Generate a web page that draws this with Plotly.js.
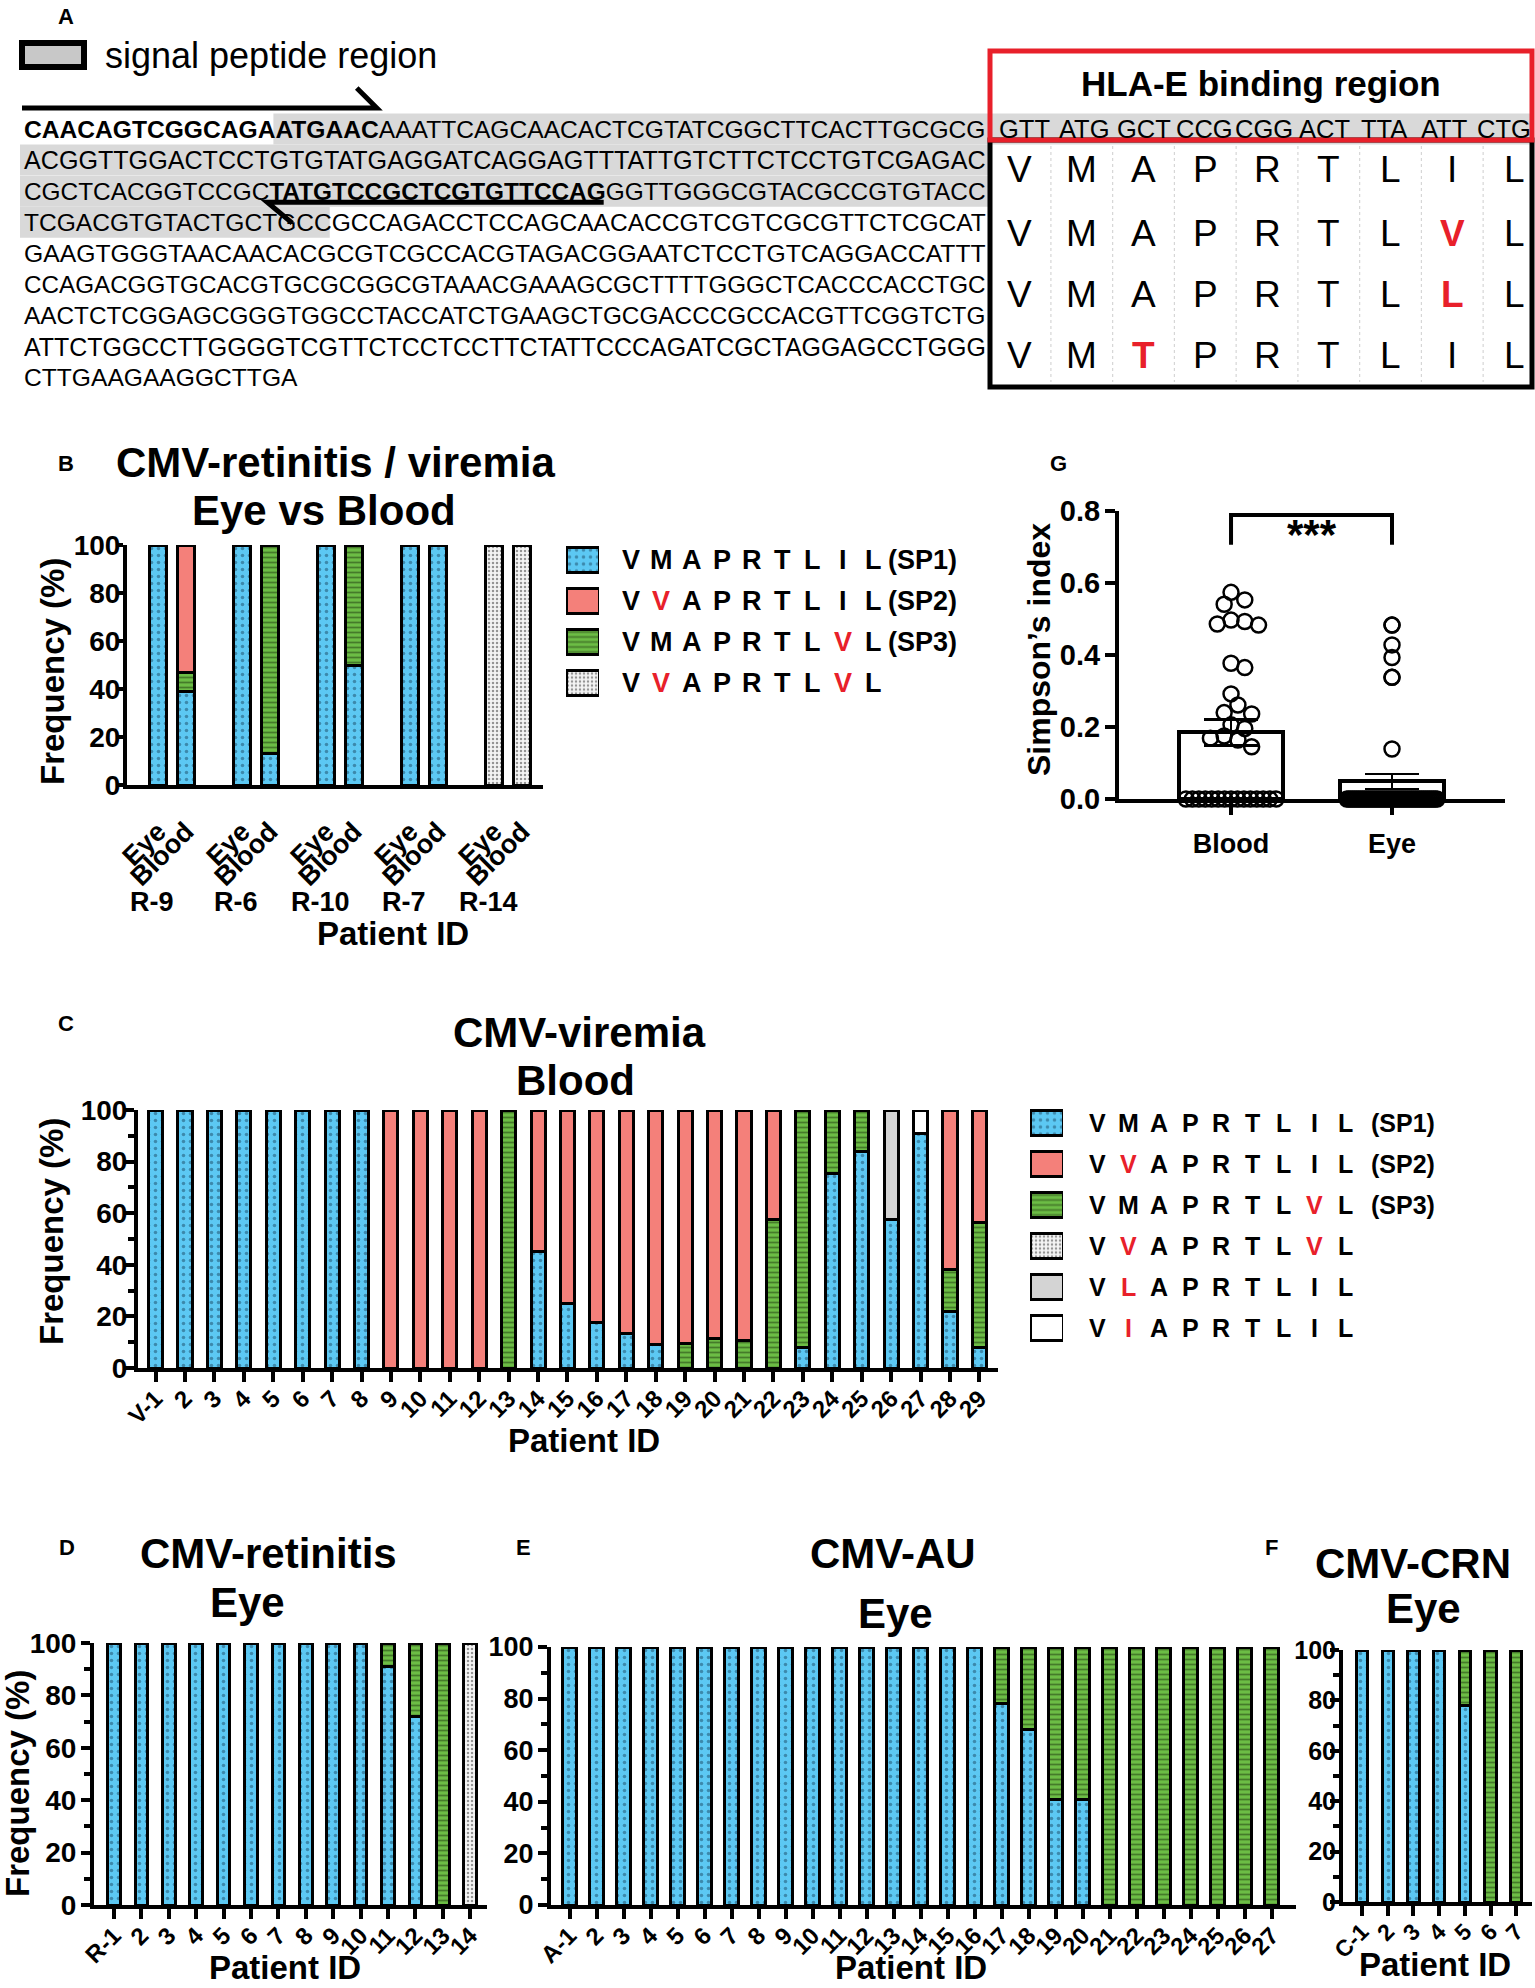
<!DOCTYPE html>
<html>
<head>
<meta charset="utf-8">
<script src="https://cdn.plot.ly/plotly-3.0.1.min.js"></script>
<style>
html,body{margin:0;padding:0;background:#fff;}
#chart{width:1535px;height:1988px;}
</style>
</head>
<body>
<div id="chart"></div>
<script>
/* ===================== DATA ===================== */
// Panel A : UL40 sequence
const seqRows = [
  "CAACAGTCGGCAGAATGAACAAATTCAGCAACACTCGTATCGGCTTCACTTGCGCG",
  "ACGGTTGGACTCCTGTGTATGAGGATCAGGAGTTTATTGTCTTCTCCTGTCGAGAC",
  "CGCTCACGGTCCGCTATGTCCGCTCGTGTTCCAGGGTTGGGCGTACGCCGTGTACC",
  "TCGACGTGTACTGCTGCCGCCAGACCTCCAGCAACACCGTCGTCGCGTTCTCGCAT",
  "GAAGTGGGTAACAACACGCGTCGCCACGTAGACGGAATCTCCTGTCAGGACCATTT",
  "CCAGACGGTGCACGTGCGCGGCGTAAACGAAAGCGCTTTTGGGCTCACCCACCTGC",
  "AACTCTCGGAGCGGGTGGCCTACCATCTGAAGCTGCGACCCGCCACGTTCGGTCTG",
  "ATTCTGGCCTTGGGGTCGTTCTCCTCCTTCTATTCCCAGATCGCTAGGAGCCTGGG",
  "CTTGAAGAAGGCTTGA"
];
const boldSpans = [[0, 0, 20], [2, 14, 34]];      // [row, startCol, endCol]
const signalPeptide = [[0, 14], [3, 18]];          // shaded region start/end
const fwdPrimer = [0, 0, 20];
const revPrimer = [2, 14, 34];
const hlaCodons = ["GTT", "ATG", "GCT", "CCG", "CGG", "ACT", "TTA", "ATT", "CTG"];
const hlaPeptides = ["VMAPRTLIL", "VMAPRTLVL", "VMAPRTLLL", "VMTPRTLIL"];

// Variants (legend order)
const variantSeqs = ["VMAPRTLIL", "VVAPRTLIL", "VMAPRTLVL", "VVAPRTLVL", "VLAPRTLIL", "VIAPRTLIL"];
const variantTags = ["(SP1)", "(SP2)", "(SP3)", "", "", ""];

// Panel B : eye vs blood
const B_patients = ["R-9", "R-6", "R-10", "R-7", "R-14"];
const B_sites = ["Eye", "Blood"];
const B_SP1 = [100, 39, 100, 13, 100, 50, 100, 100, 0, 0];
const B_SP2 = [0, 53, 0, 0, 0, 0, 0, 0, 0, 0];
const B_SP3 = [0, 8, 0, 87, 0, 50, 0, 0, 0, 0];
const B_VVAPRTLVL = [0, 0, 0, 0, 0, 0, 0, 0, 100, 100];

// Panel C : CMV-viremia blood
const C_patients = ["V-1", "2", "3", "4", "5", "6", "7", "8", "9", "10", "11", "12", "13", "14", "15",
  "16", "17", "18", "19", "20", "21", "22", "23", "24", "25", "26", "27", "28", "29"];
const C_SP1 = [100, 100, 100, 100, 100, 100, 100, 100, 0, 0, 0, 0, 0, 45, 25, 17.5, 13.5, 9, 0, 0, 0, 0, 8, 75.5, 84, 57.5, 91, 22, 8];
const C_SP2 = [0, 0, 0, 0, 0, 0, 0, 0, 100, 100, 100, 100, 0, 55, 75, 82.5, 86.5, 91, 90.5, 88.5, 89.5, 42.5, 0, 0, 0, 0, 0, 62, 43.5];
const C_SP3 = [0, 0, 0, 0, 0, 0, 0, 0, 0, 0, 0, 0, 100, 0, 0, 0, 0, 0, 9.5, 11.5, 10.5, 57.5, 92, 24.5, 16, 0, 0, 16, 48.5];
const C_VLAPRTLIL = [0, 0, 0, 0, 0, 0, 0, 0, 0, 0, 0, 0, 0, 0, 0, 0, 0, 0, 0, 0, 0, 0, 0, 0, 0, 42.5, 0, 0, 0];
const C_VIAPRTLIL = [0, 0, 0, 0, 0, 0, 0, 0, 0, 0, 0, 0, 0, 0, 0, 0, 0, 0, 0, 0, 0, 0, 0, 0, 0, 0, 9, 0, 0];

// Panel D : CMV-retinitis eye
const D_patients = ["R-1", "2", "3", "4", "5", "6", "7", "8", "9", "10", "11", "12", "13", "14"];
const D_SP1 = [100, 100, 100, 100, 100, 100, 100, 100, 100, 100, 91, 72, 0, 0];
const D_SP3 = [0, 0, 0, 0, 0, 0, 0, 0, 0, 0, 9, 28, 100, 0];
const D_VVAPRTLVL = [0, 0, 0, 0, 0, 0, 0, 0, 0, 0, 0, 0, 0, 100];

// Panel E : CMV-AU eye
const E_patients = ["A-1", "2", "3", "4", "5", "6", "7", "8", "9", "10", "11", "12", "13", "14",
  "15", "16", "17", "18", "19", "20", "21", "22", "23", "24", "25", "26", "27"];
const E_SP1 = [100, 100, 100, 100, 100, 100, 100, 100, 100, 100, 100, 100, 100, 100, 100, 100, 78, 68, 41, 41, 0, 0, 0, 0, 0, 0, 0];
const E_SP3 = [0, 0, 0, 0, 0, 0, 0, 0, 0, 0, 0, 0, 0, 0, 0, 0, 22, 32, 59, 59, 100, 100, 100, 100, 100, 100, 100];

// Panel F : CMV-CRN eye
const F_patients = ["C-1", "2", "3", "4", "5", "6", "7"];
const F_SP1 = [100, 100, 100, 100, 78, 0, 0];
const F_SP3 = [0, 0, 0, 0, 22, 100, 100];

// Panel G : Simpson's index
const G_groups = ["Blood", "Eye"];
const G_blood = [0, 0, 0, 0, 0, 0, 0, 0, 0, 0, 0, 0, 0, 0, 0,
  0.574, 0.553, 0.541, 0.497, 0.493, 0.486, 0.483, 0.377, 0.365, 0.292,
  0.261, 0.240, 0.236, 0.206, 0.196, 0.175, 0.169, 0.164, 0.145];
const G_eye = [0, 0, 0, 0, 0, 0, 0, 0, 0, 0, 0, 0, 0, 0, 0, 0, 0, 0, 0, 0, 0, 0, 0,
  0, 0, 0, 0, 0, 0, 0, 0, 0, 0, 0, 0, 0, 0, 0, 0, 0, 0, 0, 0, 0, 0, 0,
  0.483, 0.483, 0.428, 0.393, 0.338, 0.338, 0.139];
const G_mean = [0.185, 0.049];
const G_sem = [0.036, 0.021];
const G_signif = "***";

/* ===================== STYLE / HELPERS ===================== */
const W = 1535, H = 1988;
const FONT = 'Arial, "Liberation Sans", Helvetica, sans-serif';
const RED = '#e8202a';
const px = x => x / W, py = y => 1 - y / H;

const variantStyles = [
  {color: '#5cc8f3', pattern: {shape: '.', fgcolor: '#1b4a66', size: 7, solidity: 0.2, fillmode: 'overlay'}},
  {color: '#f4807a'},
  {color: '#6cbd45', pattern: {shape: '-', fgcolor: '#1e3a10', size: 5, solidity: 0.35, fillmode: 'overlay'}},
  {color: '#f4f4f4', pattern: {shape: '.', fgcolor: '#333333', size: 4, solidity: 0.3, fillmode: 'overlay'}},
  {color: '#d4d4d4'},
  {color: '#ffffff'}
];
const stackOrder = [0, 2, 1, 3, 4, 5];

const ANN = [], SHP = [], TR = [];
function T(text, x, y, size, o = {}) {
  ANN.push(Object.assign({
    xref: 'paper', yref: 'paper', x: px(x), y: py(y), text: text, showarrow: false,
    font: {family: FONT, size: size, color: o.color || '#000', weight: o.bold ? 700 : 400},
    xanchor: o.xa || 'center', yanchor: 'middle', textangle: o.angle || 0
  }, o.extra || {}));
}
function rect(x0, y0, x1, y1, fill, lc, lw, layer) {
  SHP.push({type: 'rect', xref: 'paper', yref: 'paper', x0: px(x0), x1: px(x1), y0: py(y1), y1: py(y0),
    fillcolor: fill, line: {color: lc || 'rgba(0,0,0,0)', width: lw || 0}, layer: layer || 'above'});
}
function poly(pts, lw, color, dash) {
  const d = pts.map((p, i) => (i ? 'L' : 'M') + px(p[0]) + ',' + py(p[1])).join(' ');
  SHP.push({type: 'path', xref: 'paper', yref: 'paper', path: d, line: {color: color || '#000', width: lw, dash: dash || 'solid'}});
}

/* ===================== PANEL A ===================== */
const cv = document.createElement('canvas').getContext('2d');
function tw(s, size, bold) { cv.font = (bold ? 'bold ' : '') + size + 'px ' + FONT; return cv.measureText(s).width; }
const SEQ_X = 22, SEQ_Y0 = 129, SEQ_DY = 31.1, SEQ_RIGHT = 984;
const rowY = i => SEQ_Y0 + SEQ_DY * i;
function segs(i) {
  const row = seqRows[i], out = []; let pos = 0;
  boldSpans.filter(b => b[0] === i).forEach(([r, s, e]) => {
    if (s > pos) out.push([row.slice(pos, s), false]);
    out.push([row.slice(s, e), true]); pos = e;
  });
  if (pos < row.length) out.push([row.slice(pos), false]);
  return out;
}
const segW = (i, fs) => segs(i).reduce((w, [t, b]) => w + tw(t, fs, b), 0);
// each full row is fitted to the width of the text block (justified look of the original)
const fullLen = seqRows[0].length;
const rowFS = seqRows.map((r, i) => r.length === fullLen ? 25 * (SEQ_RIGHT - SEQ_X) / segW(i, 25) : null);
const meanFS = rowFS.filter(v => v).reduce((a, b) => a + b, 0) / rowFS.filter(v => v).length;
rowFS.forEach((v, i) => { if (!v) rowFS[i] = meanFS; });
function colX(i, col) {
  let w = 0, pos = 0;
  for (const [t, b] of segs(i)) {
    const take = Math.min(t.length, col - pos);
    if (take <= 0) break;
    w += tw(t.slice(0, take), rowFS[i], b); pos += t.length;
  }
  return SEQ_X + w;
}
// shading of signal peptide
const [sStart, sEnd] = signalPeptide;
for (let r = sStart[0]; r <= sEnd[0]; r++) {
  const x0 = r === sStart[0] ? colX(r, sStart[1]) : 20;
  const x1 = r === sEnd[0] ? colX(r, sEnd[1]) : (r === sStart[0] ? 1532 : 990);
  rect(x0, rowY(r) - 15.5, x1, rowY(r) + 15.5, '#d9d9d9', null, 0, 'below');
}
// sequence rows
seqRows.forEach((row, i) => {
  T(segs(i).map(([t, b]) => b ? '<b>' + t + '</b>' : t).join(''), SEQ_X, rowY(i), rowFS[i], {xa: 'left'});
});
// primers arrows
{
  const x0 = colX(fwdPrimer[0], fwdPrimer[1]), x1 = colX(fwdPrimer[0], fwdPrimer[2]);
  const y = rowY(fwdPrimer[0]) - 21;
  poly([[x0, y], [x1, y], [x1 - 20, y - 20]], 5);
}
{
  const x0 = colX(revPrimer[0], revPrimer[1]), x1 = colX(revPrimer[0], revPrimer[2]);
  const y = rowY(revPrimer[0]) + 11;
  poly([[x1, y], [x0, y], [x0 + 25, y + 21]], 5);
}
// legend of signal peptide
rect(22, 43, 84, 67, '#c8c8c8', '#000', 6);
T('signal peptide region', 103, 55, 36, {xa: 'left'});
T('A', 66, 17, 22, {bold: true});
// HLA-E box
const hx = j => 1020 + 61.75 * j;          // amino-acid columns
const cx = j => 1024.5 + 59.9 * j;         // codon columns
rect(990, 140, 1532, 387, 'rgba(0,0,0,0)', '#000', 5);
for (let j = 0; j < hlaCodons.length - 1; j++) poly([[hx(j) + 30.9, 146], [hx(j) + 30.9, 382]], 1.2, '#d6d6d6', 'dot');
rect(990, 51, 1532, 140, 'rgba(0,0,0,0)', RED, 5);
T('HLA-E binding region', 1261, 83, 35, {bold: true});
hlaCodons.forEach((c, j) => T(c, cx(j), rowY(0), 25.5));
const pepY = [170, 233, 294, 355];
hlaPeptides.forEach((p, r) => {
  p.split('').forEach((ch, j) => {
    const mut = ch !== hlaPeptides[0][j];
    T(ch, hx(j), pepY[r], 37, {bold: mut, color: mut ? RED : '#000'});
  });
});

/* ===================== STACKED BAR PANELS ===================== */
const B_x = [];
B_patients.forEach((p, g) => B_sites.forEach((s, k) => B_x.push(3 * g + k)));
const B_ticks = [];
B_patients.forEach(() => B_sites.forEach(s => B_ticks.push(s)));
const idx = arr => arr.map((_, i) => i);

const stackPanels = [
  {xa: 'x', ya: 'y', x: B_x, width: 0.64, series: [B_SP1, B_SP2, B_SP3, B_VVAPRTLVL, null, null]},
  {xa: 'x2', ya: 'y2', x: idx(C_patients), width: 0.48, series: [C_SP1, C_SP2, C_SP3, null, C_VLAPRTLIL, C_VIAPRTLIL]},
  {xa: 'x3', ya: 'y3', x: idx(D_patients), width: 0.46, series: [D_SP1, null, D_SP3, D_VVAPRTLVL, null, null]},
  {xa: 'x4', ya: 'y4', x: idx(E_patients), width: 0.52, series: [E_SP1, null, E_SP3, null, null, null]},
  {xa: 'x5', ya: 'y5', x: idx(F_patients), width: 0.44, series: [F_SP1, null, F_SP3, null, null, null]}
];
stackPanels.forEach(P => {
  stackOrder.forEach(v => {
    const s = P.series[v];
    if (!s) return;
    const st = variantStyles[v];
    TR.push({type: 'bar', x: P.x, y: s.map(val => val === 0 ? null : val), xaxis: P.xa, yaxis: P.ya,
      width: P.width, hoverinfo: 'skip',
      marker: Object.assign({color: st.color, line: {color: '#000', width: 3}}, st.pattern ? {pattern: st.pattern} : {})});
  });
});

/* ===================== LEGENDS ===================== */
function legend(xa, ya, n, rows0, dy, letterX0, letterDX, tagX, fs) {
  for (let v = 0; v < n; v++) {
    const st = variantStyles[v];
    TR.push({type: 'bar', orientation: 'h', x: [1], y: [v], xaxis: xa, yaxis: ya, width: 0.6, hoverinfo: 'skip',
      marker: Object.assign({color: st.color, line: {color: '#000', width: 3}}, st.pattern ? {pattern: st.pattern} : {})});
    const y = rows0 + dy * v;
    variantSeqs[v].split('').forEach((ch, j) => {
      const mut = ch !== variantSeqs[0][j];
      T(ch, letterX0 + letterDX * j, y, fs, {bold: true, color: mut ? RED : '#000'});
    });
    if (variantTags[v]) T(variantTags[v], tagX, y, fs, {bold: true, xa: 'left'});
  }
}
legend('x7', 'y7', 4, 560, 41, 631, 30.3, 886, 27);
legend('x8', 'y8', 6, 1123, 41, 1097, 31.1, 1369, 25);

/* ===================== PANEL G ===================== */
const G_PXX = 161, G_PXY = 360;
function swarm(vals, jitter, zeroHalf) {
  const off = vals.map(() => 0);
  const zi = [];
  vals.forEach((v, i) => { if (v === 0) zi.push(i); });
  zi.forEach((id, k) => { off[id] = zi.length > 1 ? -zeroHalf + 2 * zeroHalf * k / (zi.length - 1) : 0; });
  if (!jitter) return off;
  const order = idx(vals).filter(i => vals[i] !== 0).sort((a, b) => vals[b] - vals[a]);
  const placed = [], d = 12.5;
  order.forEach(id => {
    const y = vals[id] * G_PXY;
    for (let k = 0; k < 60; k++) {
      const m = Math.ceil(k / 2) * (k % 2 === 1 ? 1 : -1);
      const x = m * d * 0.55;
      if (placed.every(p => Math.hypot(p.x - x, p.y - y) >= d)) { placed.push({x, y}); off[id] = x / G_PXX; break; }
    }
  });
  return off;
}
TR.push({type: 'bar', x: [0, 1], y: G_mean, xaxis: 'x6', yaxis: 'y6', width: 0.65, hoverinfo: 'skip',
  marker: {color: '#fff', line: {color: '#000', width: 4}},
  error_y: {type: 'data', array: G_sem, visible: true, color: '#000', thickness: 2.5, width: 27}});
[[G_blood, 0, true], [G_eye, 1, false]].forEach(([vals, c0, jit]) => {
  const off = swarm(vals, jit, 0.28);
  TR.push({type: 'scatter', mode: 'markers', x: vals.map((v, i) => c0 + off[i]), y: vals, xaxis: 'x6', yaxis: 'y6',
    cliponaxis: false, hoverinfo: 'skip',
    marker: {symbol: 'circle-open', size: 15, color: '#000', line: {width: 2.5, color: '#000'}}});
});
SHP.push({type: 'path', xref: 'x6', yref: 'y6', path: 'M0,0.706 L0,0.789 L1,0.789 L1,0.706', line: {color: '#000', width: 4}});
ANN.push({xref: 'x6', yref: 'paper', x: 0.5, y: py(509), text: G_signif, showarrow: false,
  font: {family: FONT, size: 42, color: '#000', weight: 700}});

/* ===================== TEXT LABELS ===================== */
T('B', 66, 463, 22, {bold: true});
T('C', 66, 1023, 22, {bold: true});
T('D', 67, 1547, 22, {bold: true});
T('E', 523, 1547, 22, {bold: true});
T('F', 1271, 1547, 22, {bold: true});
T('G', 1058, 463, 22, {bold: true});

T('CMV-retinitis / viremia', 335, 462, 42, {bold: true});
T('Eye vs Blood', 324, 510, 42, {bold: true});
T('CMV-viremia', 579, 1032, 42, {bold: true});
T('Blood', 575, 1080, 42, {bold: true});
T('CMV-retinitis', 268, 1553, 42, {bold: true});
T('Eye', 247, 1602, 42, {bold: true});
T('CMV-AU', 893, 1553, 42, {bold: true});
T('Eye', 895, 1613, 42, {bold: true});
T('CMV-CRN', 1413, 1563, 42, {bold: true});
T('Eye', 1423, 1608, 42, {bold: true});

T('Frequency (%)', 52, 672, 33, {bold: true, angle: -90});
T('Frequency (%)', 51, 1232, 33, {bold: true, angle: -90});
T('Frequency (%)', 17, 1784, 33, {bold: true, angle: -90});
T('Simpson’s index', 1039, 650, 32, {bold: true, angle: -90});

T('Patient ID', 393, 933, 33, {bold: true});
T('Patient ID', 584, 1440, 33, {bold: true});
T('Patient ID', 285, 1967, 33, {bold: true});
T('Patient ID', 911, 1967, 33, {bold: true});
T('Patient ID', 1435, 1964, 33, {bold: true});

B_patients.forEach((p, g) => {
  ANN.push({xref: 'x', yref: 'paper', x: 3 * g - 0.2, y: py(902), text: p, showarrow: false,
    font: {family: FONT, size: 27, color: '#000', weight: 700}});
});

/* ===================== AXES ===================== */
const tf = s => ({family: FONT, size: s, color: '#000', weight: 700});
function yFreq(top, bottom, anchor, fs, minor, tlen, standoff) {
  const a = {domain: [py(bottom), py(top)], range: [0, 100], anchor: anchor, tickmode: 'linear', tick0: 0, dtick: 20,
    ticks: 'outside', ticklen: tlen, tickwidth: 4, tickcolor: '#000', showline: true, linewidth: 4, linecolor: '#000',
    showgrid: false, zeroline: false, tickfont: tf(fs), automargin: false, fixedrange: true, ticklabelstandoff: standoff};
  if (minor) a.minor = {dtick: 10, tick0: 0, ticks: 'outside', ticklen: 6, tickwidth: 4, tickcolor: '#000', showgrid: false};
  return a;
}
function xCat(l, r, anchor, range, vals, texts, fs, ticks) {
  return {domain: [px(l), px(r)], range: range, anchor: anchor, tickmode: 'array', tickvals: vals, ticktext: texts,
    tickangle: -45, ticks: ticks ? 'outside' : '', ticklen: 10, tickwidth: 4, tickcolor: '#000',
    showline: true, linewidth: 4, linecolor: '#000', showgrid: false, zeroline: false, tickfont: tf(fs),
    automargin: false, fixedrange: true, ticklabelstandoff: ticks ? -7 : 16};
}
const hidden = (dom, range) => ({domain: dom, range: range, visible: false, fixedrange: true, showgrid: false, zeroline: false});

const layout = {
  width: W, height: H, margin: {l: 0, r: 0, t: 0, b: 0},
  paper_bgcolor: '#fff', plot_bgcolor: 'rgba(0,0,0,0)',
  font: {family: FONT, color: '#000'},
  showlegend: false, barmode: 'stack', hovermode: false,
  xaxis: xCat(127, 543, 'y', [-1.107, 13.75], B_x, B_ticks, 27, false),
  yaxis: yFreq(545, 785, 'x', 28, false, 6, -9),
  xaxis2: xCat(138, 998, 'y2', [-0.595, 28.63], idx(C_patients), C_patients, 24, true),
  yaxis2: yFreq(1110, 1368, 'x2', 28, true, 9, -8),
  xaxis3: xCat(94, 487, 'y3', [-0.73, 13.61], idx(D_patients), D_patients, 24, true),
  yaxis3: yFreq(1643, 1905, 'x3', 28, true, 9, -1),
  xaxis4: xCat(551, 1296, 'y4', [-0.685, 26.9], idx(E_patients), E_patients, 24, true),
  yaxis4: yFreq(1647, 1905, 'x4', 27, true, 9, -1),
  xaxis5: xCat(1343, 1532, 'y5', [-0.74, 6.61], idx(F_patients), F_patients, 23, true),
  yaxis5: yFreq(1650, 1902, 'x5', 25, true, 9, -11),
  xaxis6: {domain: [px(1119), px(1505)], range: [-0.696, 1.702], anchor: 'y6', tickmode: 'array', tickvals: [0, 1],
    ticktext: G_groups, ticks: 'outside', ticklen: 12, tickwidth: 4, tickcolor: '#000', showline: true, linewidth: 4,
    linecolor: '#000', showgrid: false, zeroline: false, tickfont: tf(27), automargin: false, fixedrange: true, ticklabelstandoff: 6},
  yaxis6: {domain: [py(799), py(511)], range: [0, 0.8], anchor: 'x6', tickmode: 'array', tickvals: [0, 0.2, 0.4, 0.6, 0.8],
    tickformat: '.1f', ticks: 'outside', ticklen: 10, tickwidth: 4, tickcolor: '#000', showline: true, linewidth: 4,
    linecolor: '#000', showgrid: false, zeroline: false, tickfont: tf(29), automargin: false, fixedrange: true, ticklabelstandoff: -1},
  xaxis7: Object.assign(hidden([px(566), px(599)], [0, 1]), {anchor: 'y7'}),
  yaxis7: Object.assign(hidden([py(703.5), py(539.5)], [3.5, -0.5]), {anchor: 'x7'}),
  xaxis8: Object.assign(hidden([px(1030), px(1063)], [0, 1]), {anchor: 'y8'}),
  yaxis8: Object.assign(hidden([py(1348.5), py(1102.5)], [5.5, -0.5]), {anchor: 'x8'}),
  annotations: ANN,
  shapes: SHP
};

Plotly.newPlot('chart', TR, layout, {staticPlot: true, displayModeBar: false});
</script>
</body>
</html>
